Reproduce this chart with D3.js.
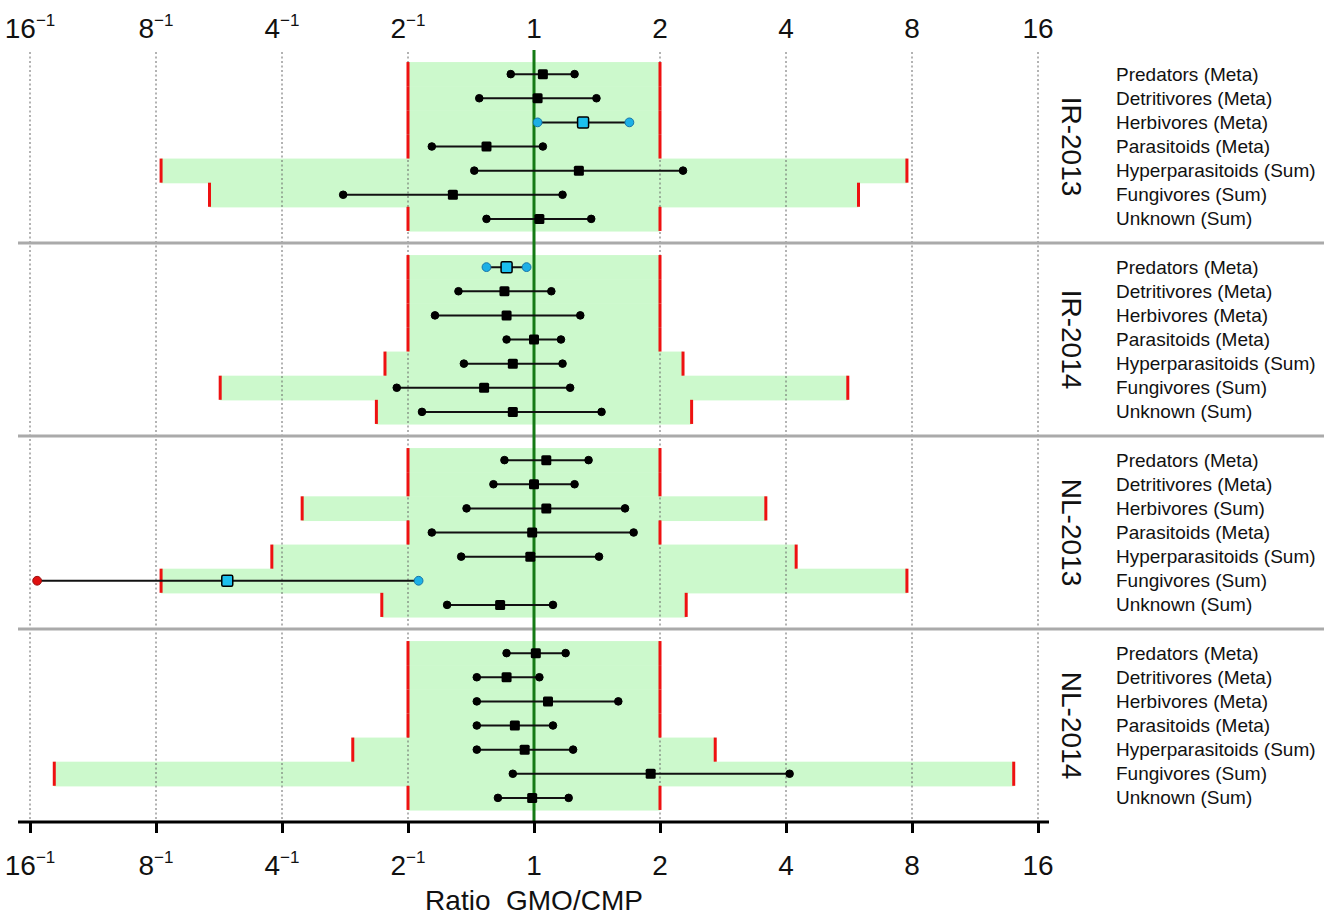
<!DOCTYPE html>
<html>
<head>
<meta charset="utf-8">
<script src="https://cdn.jsdelivr.net/npm/d3@7"></script>
<style>
  body { margin: 0; background: #fff; }
  text { font-family: "Liberation Sans", Arial, sans-serif; fill: #111; }
</style>
</head>
<body>
<div id="chart"></div>
<script>
'use strict';

// panels (site-year) and the groups inside them
const panels = ["IR-2013", "IR-2014", "NL-2013", "NL-2014"];

const labelsIR2013 = ["Predators (Meta)", "Detritivores (Meta)", "Herbivores (Meta)", "Parasitoids (Meta)", "Hyperparasitoids (Sum)", "Fungivores (Sum)", "Unknown (Sum)"];
const labelsIR2014 = ["Predators (Meta)", "Detritivores (Meta)", "Herbivores (Meta)", "Parasitoids (Meta)", "Hyperparasitoids (Sum)", "Fungivores (Sum)", "Unknown (Sum)"];
const labelsNL2013 = ["Predators (Meta)", "Detritivores (Meta)", "Herbivores (Sum)", "Parasitoids (Meta)", "Hyperparasitoids (Sum)", "Fungivores (Sum)", "Unknown (Sum)"];
const labelsNL2014 = ["Predators (Meta)", "Detritivores (Meta)", "Herbivores (Meta)", "Parasitoids (Meta)", "Hyperparasitoids (Sum)", "Fungivores (Sum)", "Unknown (Sum)"];

// ratio GMO/CMP: lower CI, estimate, upper CI
const lowIR2013 = [0.88, 0.74, 1.02, 0.57, 0.72, 0.35, 0.77];
const estIR2013 = [1.05, 1.02, 1.31, 0.77, 1.28, 0.64, 1.03];
const uppIR2013 = [1.25, 1.41, 1.69, 1.05, 2.27, 1.17, 1.37];

const lowIR2014 = [0.77, 0.66, 0.58, 0.86, 0.68, 0.47, 0.54];
const estIR2014 = [0.86, 0.85, 0.86, 1.00, 0.89, 0.76, 0.89];
const uppIR2014 = [0.96, 1.10, 1.29, 1.16, 1.17, 1.22, 1.45];

const lowNL2013 = [0.85, 0.80, 0.69, 0.57, 0.67, 0.065, 0.62];
const estNL2013 = [1.07, 1.00, 1.07, 0.99, 0.98, 0.185, 0.83];
const uppNL2013 = [1.35, 1.25, 1.65, 1.73, 1.43, 0.53, 1.11];

const lowNL2014 = [0.86, 0.73, 0.73, 0.73, 0.73, 0.89, 0.82];
const estNL2014 = [1.01, 0.86, 1.08, 0.90, 0.95, 1.90, 0.99];
const uppNL2014 = [1.19, 1.03, 1.59, 1.11, 1.24, 4.08, 1.21];

// equivalence limits (upper; lower is the reciprocal)
const limIR2013 = [2, 2, 2, 2, 7.78, 5.96, 2];
const limIR2014 = [2, 2, 2, 2, 2.27, 5.62, 2.38];
const limNL2013 = [2, 2, 3.58, 2, 4.23, 7.78, 2.31];
const limNL2014 = [2, 2, 2, 2, 2.71, 14.0, 2];

// rows whose interval lies outside of no-difference (highlighted)
const sigIR2013 = [0, 0, 1, 0, 0, 0, 0];
const sigIR2014 = [1, 0, 0, 0, 0, 0, 0];
const sigNL2013 = [0, 0, 0, 0, 0, 1, 0];
const sigNL2014 = [0, 0, 0, 0, 0, 0, 0];
// lower CI that is truncated at the axis
const cutNL2013 = [0, 0, 0, 0, 0, 1, 0];

const tickValues = [1/16, 1/8, 1/4, 1/2, 1, 2, 4, 8, 16];

const W = 1335, H = 919;

const rows = [];
const sources = {
    "IR-2013": [labelsIR2013, lowIR2013, estIR2013, uppIR2013, limIR2013, sigIR2013, null],
    "IR-2014": [labelsIR2014, lowIR2014, estIR2014, uppIR2014, limIR2014, sigIR2014, null],
    "NL-2013": [labelsNL2013, lowNL2013, estNL2013, uppNL2013, limNL2013, sigNL2013, cutNL2013],
    "NL-2014": [labelsNL2014, lowNL2014, estNL2014, uppNL2014, limNL2014, sigNL2014, null]
};
panels.forEach(function(p) {
    const s = sources[p];
    s[0].forEach(function(lab, i) {
        rows.push({panel: p, i: i, label: lab, low: s[1][i], est: s[2][i], upp: s[3][i],
                   lim: s[4][i], sig: s[5][i] === 1, cut: s[6] ? s[6][i] === 1 : false});
    });
});

const svg = d3.select("#chart").append("svg")
    .attr("width", W)
    .attr("height", H);

const x = d3.scaleLog().base(2).domain([1/16, 16]).range([30, 1038]);
const yPanel = d3.scaleBand().domain(panels).range([50, 822]);
const yRow = d3.scalePoint().domain(d3.range(7)).range([0, yPanel.bandwidth()]).padding(1);
const step = yRow.step();
const y = function(d) { return yPanel(d.panel) + yRow(d.i); };

const plotTop = 52, plotBottom = 822;

// green equivalence area
svg.append("g").selectAll("rect")
    .data(rows)
    .enter()
    .append("rect")
    .attr("x", function(d) { return x(1 / d.lim); })
    .attr("y", function(d) { return y(d) - step / 2; })
    .attr("width", function(d) { return x(d.lim) - x(1 / d.lim); })
    .attr("height", step + 0.6)
    .attr("fill", "#ccf9cc");

// dotted grid
svg.append("g").selectAll("line")
    .data(tickValues)
    .enter()
    .append("line")
    .attr("x1", function(d) { return x(d); })
    .attr("x2", function(d) { return x(d); })
    .attr("y1", plotTop)
    .attr("y2", plotBottom)
    .attr("stroke", "#666")
    .attr("stroke-width", 1)
    .attr("stroke-dasharray", "2,2.5");

// red limits
const limitLines = svg.append("g");
["lo", "hi"].forEach(function(side) {
    limitLines.selectAll("line." + side)
        .data(rows)
        .enter()
        .append("line")
        .attr("class", side)
        .attr("x1", function(d) { return x(side === "lo" ? 1 / d.lim : d.lim); })
        .attr("x2", function(d) { return x(side === "lo" ? 1 / d.lim : d.lim); })
        .attr("y1", function(d) { return y(d) - step / 2; })
        .attr("y2", function(d) { return y(d) + step / 2; })
        .attr("stroke", "#ee1111")
        .attr("stroke-width", 3);
});

// panel separators
svg.append("g").selectAll("line")
    .data(panels.slice(1))
    .enter()
    .append("line")
    .attr("x1", 18)
    .attr("x2", 1324)
    .attr("y1", function(d) { return yPanel(d); })
    .attr("y2", function(d) { return yPanel(d); })
    .attr("stroke", "#aaaaaa")
    .attr("stroke-width", 3);

// reference line at ratio 1
svg.append("line")
    .attr("x1", x(1)).attr("x2", x(1))
    .attr("y1", 50).attr("y2", plotBottom)
    .attr("stroke", "#157a15")
    .attr("stroke-width", 3);

// intervals
const marks = svg.append("g");
marks.selectAll("line")
    .data(rows)
    .enter()
    .append("line")
    .attr("x1", function(d) { return x(d.low); })
    .attr("x2", function(d) { return x(d.upp); })
    .attr("y1", y)
    .attr("y2", y)
    .attr("stroke", "#111")
    .attr("stroke-width", 2);

const ends = [];
rows.forEach(function(d) {
    ends.push({row: d, v: d.low, kind: d.cut ? "cut" : (d.sig ? "sig" : "ns")});
    ends.push({row: d, v: d.upp, kind: d.sig ? "sig" : "ns"});
});
const endFill = {ns: "#000", sig: "#1cb0e6", cut: "#e01010"};
const endStroke = {ns: "#000", sig: "#1874a8", cut: "#9a1010"};

marks.selectAll("circle")
    .data(ends)
    .enter()
    .append("circle")
    .attr("cx", function(d) { return x(d.v); })
    .attr("cy", function(d) { return y(d.row); })
    .attr("r", function(d) { return d.kind === "ns" ? 3.8 : 4.4; })
    .attr("fill", function(d) { return endFill[d.kind]; })
    .attr("stroke", function(d) { return endStroke[d.kind]; })
    .attr("stroke-width", 1);

marks.selectAll("rect")
    .data(rows)
    .enter()
    .append("rect")
    .attr("x", function(d) { return x(d.est) - (d.sig ? 5.5 : 5); })
    .attr("y", function(d) { return y(d) - (d.sig ? 5.5 : 5); })
    .attr("width", function(d) { return d.sig ? 11 : 10; })
    .attr("height", function(d) { return d.sig ? 11 : 10; })
    .attr("rx", 1.5)
    .attr("fill", function(d) { return d.sig ? "#1cc0ee" : "#000"; })
    .attr("stroke", "#000")
    .attr("stroke-width", function(d) { return d.sig ? 1.5 : 0; });

// bottom axis
const axis = svg.append("g")
    .attr("transform", "translate(0," + plotBottom + ")")
    .call(d3.axisBottom(x).tickValues(tickValues).tickSize(11).tickFormat(""));
axis.select(".domain").remove();
axis.selectAll(".tick line").attr("stroke", "#000").attr("stroke-width", 3);
axis.append("line")
    .attr("x1", 18).attr("x2", 1049)
    .attr("stroke", "#000")
    .attr("stroke-width", 3);

function tickLabel(sel, yPos) {
    const t = sel.selectAll(null)
        .data(tickValues)
        .enter()
        .append("text")
        .attr("x", function(d) { return x(d); })
        .attr("y", yPos)
        .attr("text-anchor", "middle")
        .attr("font-size", 28);
    t.append("tspan")
        .text(function(d) { return d < 1 ? String(Math.round(1 / d)) : String(d); });
    t.filter(function(d) { return d < 1; })
        .append("tspan")
        .attr("dy", -12)
        .attr("font-size", 17)
        .text("\u22121");
}
tickLabel(svg.append("g"), 38);
tickLabel(svg.append("g"), 875);

svg.append("text")
    .attr("x", x(1))
    .attr("y", 910)
    .attr("text-anchor", "middle")
    .attr("font-size", 28)
    .attr("xml:space", "preserve")
    .text("Ratio  GMO/CMP");

// panel names
svg.append("g").selectAll("text")
    .data(panels)
    .enter()
    .append("text")
    .attr("transform", function(d) {
        return "translate(1071," + (yPanel(d) + yPanel.bandwidth() / 2) + ") rotate(90)";
    })
    .attr("text-anchor", "middle")
    .attr("dominant-baseline", "central")
    .attr("font-size", 28)
    .text(function(d) { return d; });

// group labels
svg.append("g").selectAll("text")
    .data(rows)
    .enter()
    .append("text")
    .attr("x", 1116)
    .attr("y", y)
    .attr("dominant-baseline", "central")
    .attr("font-size", 19)
    .text(function(d) { return d.label; });
</script>
</body>
</html>
